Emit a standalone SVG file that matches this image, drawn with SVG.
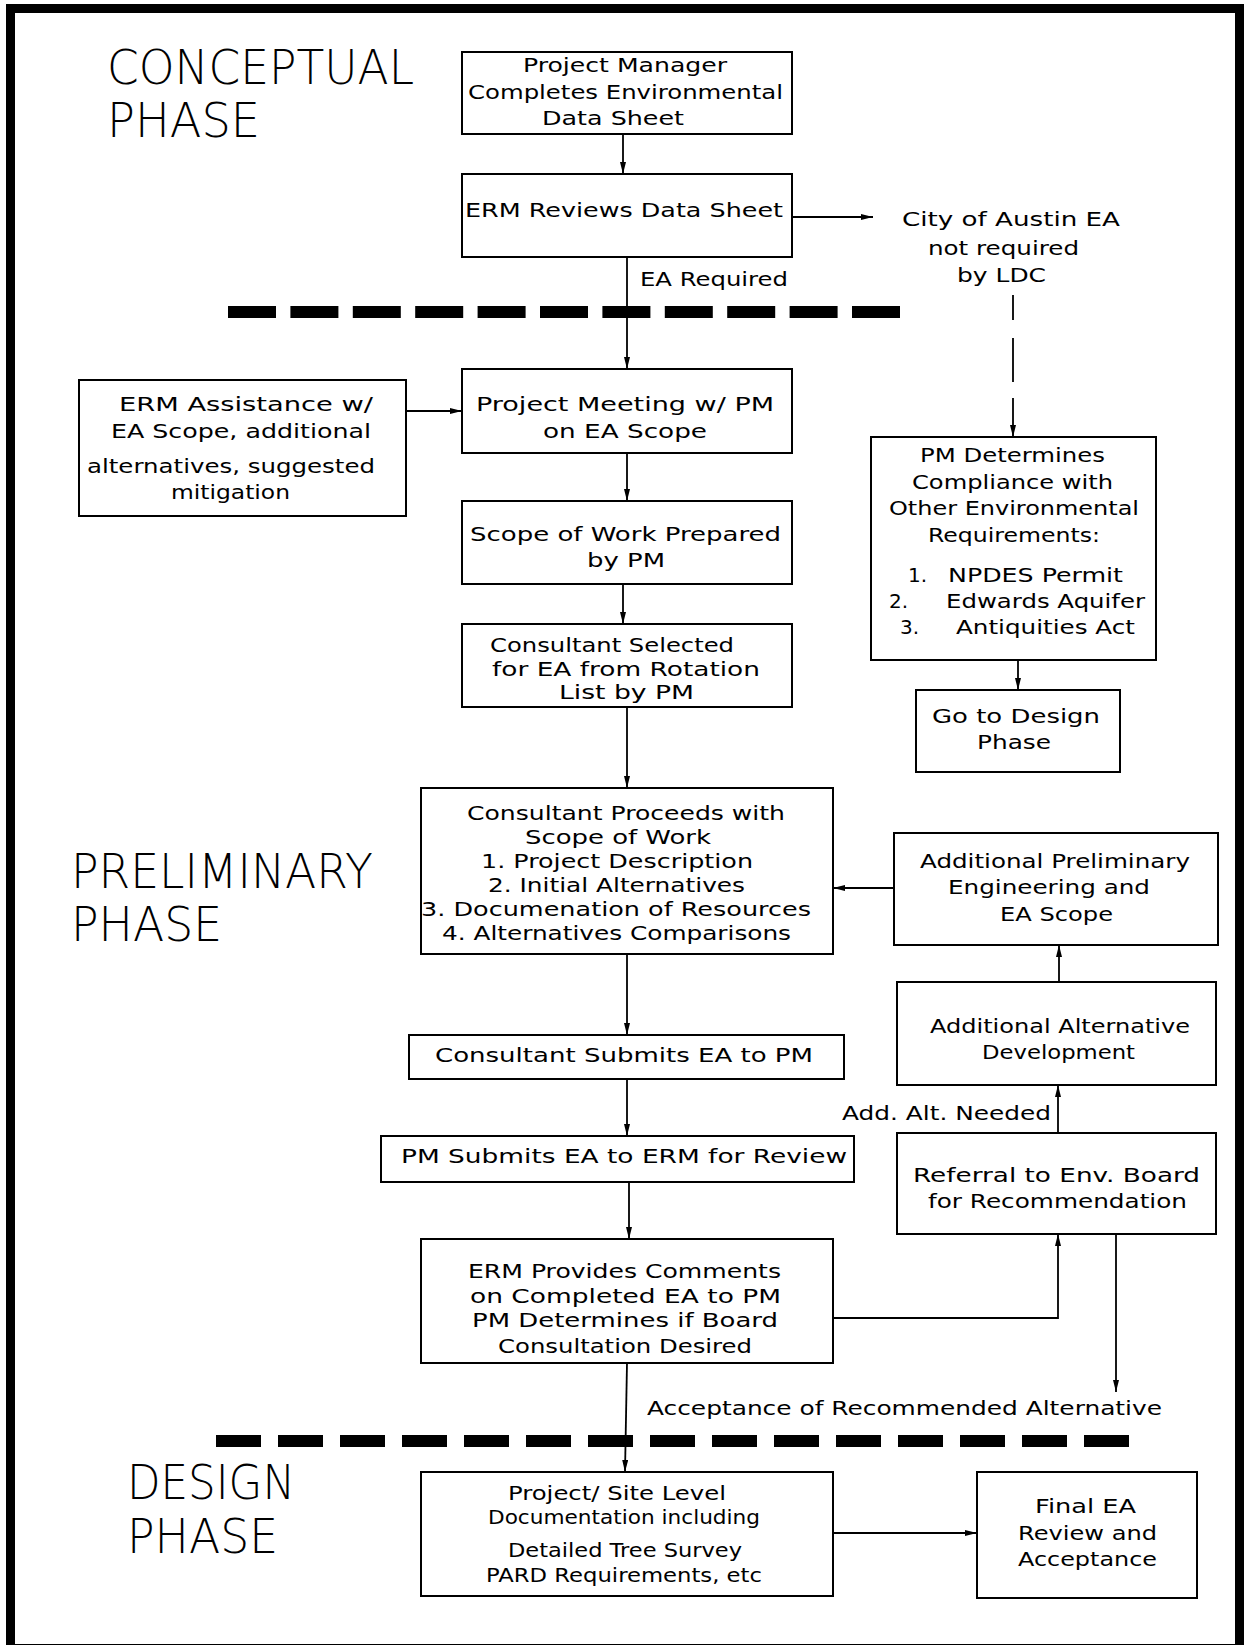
<svg xmlns="http://www.w3.org/2000/svg" width="1244" height="1645" viewBox="0 0 1244 1645">
<style>
.bx{fill:none;stroke:#000;stroke-width:2}
.t{font-family:"DejaVu Sans","Liberation Sans",sans-serif;font-size:20px;fill:#000;text-anchor:middle}
.ts{font-family:"DejaVu Sans","Liberation Sans",sans-serif;font-size:20px;fill:#000;text-anchor:start}
.ph{font-family:"DejaVu Sans","Liberation Sans",sans-serif;font-size:48px;font-weight:200;fill:#000;text-anchor:start}
.c{fill:none;stroke:#000;stroke-width:1.8}
.dash{fill:none;stroke:#000;stroke-width:12}
</style>
<defs>
<marker id="ah" markerUnits="userSpaceOnUse" markerWidth="14" markerHeight="8" refX="12" refY="3" orient="auto">
<path d="M0,0 L12,3 L0,6 z" fill="#000"/>
</marker>
</defs>
<rect width="1244" height="1645" fill="#fff"/>
<rect x="10.5" y="8.5" width="1229" height="1640" fill="none" stroke="#000" stroke-width="9"/>

<g id="phases">
<text class="ph" x="107" y="84" textLength="307" lengthAdjust="spacingAndGlyphs">CONCEPTUAL</text>
<text class="ph" x="107" y="137" textLength="153" lengthAdjust="spacingAndGlyphs">PHASE</text>
<text class="ph" x="71" y="888" textLength="302" lengthAdjust="spacingAndGlyphs">PRELIMINARY</text>
<text class="ph" x="71" y="941" textLength="151" lengthAdjust="spacingAndGlyphs">PHASE</text>
<text class="ph" x="127" y="1499" textLength="168" lengthAdjust="spacingAndGlyphs">DESIGN</text>
<text class="ph" x="127" y="1553" textLength="151" lengthAdjust="spacingAndGlyphs">PHASE</text>
</g>

<g id="separators">
<line class="dash" x1="228" y1="312" x2="900" y2="312" stroke-dasharray="48 14.4"/>
<line class="dash" x1="216" y1="1441" x2="1129" y2="1441" stroke-dasharray="45 17"/>
</g>

<g id="connectors">
<line class="c" x1="623" y1="134" x2="623" y2="174" marker-end="url(#ah)"/>
<line class="c" x1="792" y1="217" x2="873" y2="217" marker-end="url(#ah)"/>
<line class="c" x1="627" y1="257" x2="627" y2="369" marker-end="url(#ah)"/>
<line class="c" x1="1013" y1="295" x2="1013" y2="437" stroke-dasharray="25 18 44 16 60" marker-end="url(#ah)"/>
<line class="c" x1="406" y1="411" x2="462" y2="411" marker-end="url(#ah)"/>
<line class="c" x1="627" y1="453" x2="627" y2="501" marker-end="url(#ah)"/>
<line class="c" x1="623" y1="584" x2="623" y2="624" marker-end="url(#ah)"/>
<line class="c" x1="1018" y1="660" x2="1018" y2="690" marker-end="url(#ah)"/>
<line class="c" x1="627" y1="707" x2="627" y2="788" marker-end="url(#ah)"/>
<line class="c" x1="894" y1="888" x2="833" y2="888" marker-end="url(#ah)"/>
<line class="c" x1="1059" y1="982" x2="1059" y2="945" marker-end="url(#ah)"/>
<line class="c" x1="627" y1="954" x2="627" y2="1035" marker-end="url(#ah)"/>
<line class="c" x1="1058" y1="1133" x2="1058" y2="1085" marker-end="url(#ah)"/>
<line class="c" x1="627" y1="1079" x2="627" y2="1136" marker-end="url(#ah)"/>
<line class="c" x1="629" y1="1182" x2="629" y2="1239" marker-end="url(#ah)"/>
<polyline class="c" points="833,1318 1058,1318 1058,1234" marker-end="url(#ah)"/>
<line class="c" x1="1116" y1="1234" x2="1116" y2="1392" marker-end="url(#ah)"/>
<line class="c" x1="627" y1="1363" x2="625" y2="1472" marker-end="url(#ah)"/>
<line class="c" x1="833" y1="1533" x2="977" y2="1533" marker-end="url(#ah)"/>
</g>

<g id="labels">
<text class="t" x="1011" y="226" textLength="218" lengthAdjust="spacingAndGlyphs">City of Austin EA</text>
<text class="t" x="1003.5" y="255" textLength="151" lengthAdjust="spacingAndGlyphs">not required</text>
<text class="t" x="1001.5" y="282" textLength="89" lengthAdjust="spacingAndGlyphs">by LDC</text>
<text class="t" x="714" y="286" textLength="148" lengthAdjust="spacingAndGlyphs">EA Required</text>
<text class="t" x="946.5" y="1120" textLength="209" lengthAdjust="spacingAndGlyphs">Add. Alt. Needed</text>
<text class="t" x="904.5" y="1415" textLength="515" lengthAdjust="spacingAndGlyphs">Acceptance of Recommended Alternative</text>
</g>

<g id="n-pm-completes">
<rect class="bx" x="462" y="52" width="330" height="82"/>
<text class="t" x="625" y="72" textLength="204" lengthAdjust="spacingAndGlyphs">Project Manager</text>
<text class="t" x="625.5" y="99" textLength="315" lengthAdjust="spacingAndGlyphs">Completes Environmental</text>
<text class="t" x="613" y="125" textLength="142" lengthAdjust="spacingAndGlyphs">Data Sheet</text>
</g>

<g id="n-erm-reviews">
<rect class="bx" x="462" y="174" width="330" height="83"/>
<text class="t" x="624" y="217" textLength="318" lengthAdjust="spacingAndGlyphs">ERM Reviews Data Sheet</text>
</g>

<g id="n-erm-assistance">
<rect class="bx" x="79" y="380" width="327" height="136" stroke-width="2.5"/>
<text class="t" x="246" y="411" textLength="254" lengthAdjust="spacingAndGlyphs">ERM Assistance w/</text>
<text class="t" x="241" y="438" textLength="260" lengthAdjust="spacingAndGlyphs">EA Scope, additional</text>
<text class="t" x="231" y="473" textLength="288" lengthAdjust="spacingAndGlyphs">alternatives, suggested</text>
<text class="t" x="230.5" y="499" textLength="119" lengthAdjust="spacingAndGlyphs">mitigation</text>
</g>

<g id="n-project-meeting">
<rect class="bx" x="462" y="369" width="330" height="84"/>
<text class="t" x="625" y="411" textLength="298" lengthAdjust="spacingAndGlyphs">Project Meeting w/ PM</text>
<text class="t" x="625" y="438" textLength="164" lengthAdjust="spacingAndGlyphs">on EA Scope</text>
</g>

<g id="n-scope-prepared">
<rect class="bx" x="462" y="501" width="330" height="83"/>
<text class="t" x="625.5" y="541" textLength="311" lengthAdjust="spacingAndGlyphs">Scope of Work Prepared</text>
<text class="t" x="626" y="567" textLength="78" lengthAdjust="spacingAndGlyphs">by PM</text>
</g>

<g id="n-consultant-selected">
<rect class="bx" x="462" y="624" width="330" height="83"/>
<text class="t" x="612" y="652" textLength="244" lengthAdjust="spacingAndGlyphs">Consultant Selected</text>
<text class="t" x="626" y="676" textLength="268" lengthAdjust="spacingAndGlyphs">for EA from Rotation</text>
<text class="t" x="626.5" y="699" textLength="135" lengthAdjust="spacingAndGlyphs">List by PM</text>
</g>

<g id="n-pm-determines">
<rect class="bx" x="871" y="437" width="285" height="223" stroke-width="2.5"/>
<text class="t" x="1012.5" y="462" textLength="185" lengthAdjust="spacingAndGlyphs">PM Determines</text>
<text class="t" x="1012.5" y="489" textLength="201" lengthAdjust="spacingAndGlyphs">Compliance with</text>
<text class="t" x="1014" y="515" textLength="250" lengthAdjust="spacingAndGlyphs">Other Environmental</text>
<text class="t" x="1014" y="542" textLength="172" lengthAdjust="spacingAndGlyphs">Requirements:</text>
<text class="ts" x="908" y="582">1.</text>
<text class="t" x="1035.5" y="582" textLength="175" lengthAdjust="spacingAndGlyphs">NPDES Permit</text>
<text class="ts" x="889" y="608">2.</text>
<text class="t" x="1045.5" y="608" textLength="199" lengthAdjust="spacingAndGlyphs">Edwards Aquifer</text>
<text class="ts" x="900" y="634">3.</text>
<text class="t" x="1045.5" y="634" textLength="179" lengthAdjust="spacingAndGlyphs">Antiquities Act</text>
</g>

<g id="n-go-design">
<rect class="bx" x="916" y="690" width="204" height="82"/>
<text class="t" x="1016" y="723" textLength="168" lengthAdjust="spacingAndGlyphs">Go to Design</text>
<text class="t" x="1014" y="749" textLength="74" lengthAdjust="spacingAndGlyphs">Phase</text>
</g>

<g id="n-consultant-proceeds">
<rect class="bx" x="421" y="788" width="412" height="166"/>
<text class="t" x="626" y="820" textLength="318" lengthAdjust="spacingAndGlyphs">Consultant Proceeds with</text>
<text class="t" x="618" y="844" textLength="186" lengthAdjust="spacingAndGlyphs">Scope of Work</text>
<text class="t" x="617" y="868" textLength="272" lengthAdjust="spacingAndGlyphs">1. Project Description</text>
<text class="t" x="616.5" y="892" textLength="257" lengthAdjust="spacingAndGlyphs">2. Initial Alternatives</text>
<text class="t" x="616" y="916" textLength="390" lengthAdjust="spacingAndGlyphs">3. Documenation of Resources</text>
<text class="t" x="616.5" y="940" textLength="349" lengthAdjust="spacingAndGlyphs">4. Alternatives Comparisons</text>
</g>

<g id="n-additional-prelim">
<rect class="bx" x="894" y="833" width="324" height="112"/>
<text class="t" x="1055" y="868" textLength="270" lengthAdjust="spacingAndGlyphs">Additional Preliminary</text>
<text class="t" x="1049" y="894" textLength="202" lengthAdjust="spacingAndGlyphs">Engineering and</text>
<text class="t" x="1056.5" y="921" textLength="113" lengthAdjust="spacingAndGlyphs">EA Scope</text>
</g>

<g id="n-additional-alt">
<rect class="bx" x="897" y="982" width="319" height="103"/>
<text class="t" x="1060" y="1033" textLength="260" lengthAdjust="spacingAndGlyphs">Additional Alternative</text>
<text class="t" x="1058.5" y="1059" textLength="153" lengthAdjust="spacingAndGlyphs">Development</text>
</g>

<g id="n-consultant-submits">
<rect class="bx" x="409" y="1035" width="435" height="44"/>
<text class="t" x="624" y="1062" textLength="378" lengthAdjust="spacingAndGlyphs">Consultant Submits EA to PM</text>
</g>

<g id="n-referral">
<rect class="bx" x="897" y="1133" width="319" height="101"/>
<text class="t" x="1056.5" y="1182" textLength="287" lengthAdjust="spacingAndGlyphs">Referral to Env. Board</text>
<text class="t" x="1057.5" y="1208" textLength="259" lengthAdjust="spacingAndGlyphs">for Recommendation</text>
</g>

<g id="n-pm-submits">
<rect class="bx" x="381" y="1136" width="473" height="46"/>
<text class="t" x="624" y="1163" textLength="446" lengthAdjust="spacingAndGlyphs">PM Submits EA to ERM for Review</text>
</g>

<g id="n-erm-provides">
<rect class="bx" x="421" y="1239" width="412" height="124"/>
<text class="t" x="624.5" y="1278" textLength="313" lengthAdjust="spacingAndGlyphs">ERM Provides Comments</text>
<text class="t" x="625.5" y="1303" textLength="311" lengthAdjust="spacingAndGlyphs">on Completed EA to PM</text>
<text class="t" x="625" y="1327" textLength="306" lengthAdjust="spacingAndGlyphs">PM Determines if Board</text>
<text class="t" x="625" y="1353" textLength="254" lengthAdjust="spacingAndGlyphs">Consultation Desired</text>
</g>

<g id="n-project-site">
<rect class="bx" x="421" y="1472" width="412" height="124"/>
<text class="t" x="617" y="1500" textLength="218" lengthAdjust="spacingAndGlyphs">Project/ Site Level</text>
<text class="t" x="624" y="1524" textLength="272" lengthAdjust="spacingAndGlyphs">Documentation including</text>
<text class="t" x="625" y="1557" textLength="234" lengthAdjust="spacingAndGlyphs">Detailed Tree Survey</text>
<text class="t" x="624" y="1582" textLength="276" lengthAdjust="spacingAndGlyphs">PARD Requirements, etc</text>
</g>

<g id="n-final-ea">
<rect class="bx" x="977" y="1472" width="220" height="126" stroke-width="2.5"/>
<text class="t" x="1085.5" y="1513" textLength="101" lengthAdjust="spacingAndGlyphs">Final EA</text>
<text class="t" x="1087.5" y="1540" textLength="139" lengthAdjust="spacingAndGlyphs">Review and</text>
<text class="t" x="1087.5" y="1566" textLength="139" lengthAdjust="spacingAndGlyphs">Acceptance</text>
</g>
</svg>
